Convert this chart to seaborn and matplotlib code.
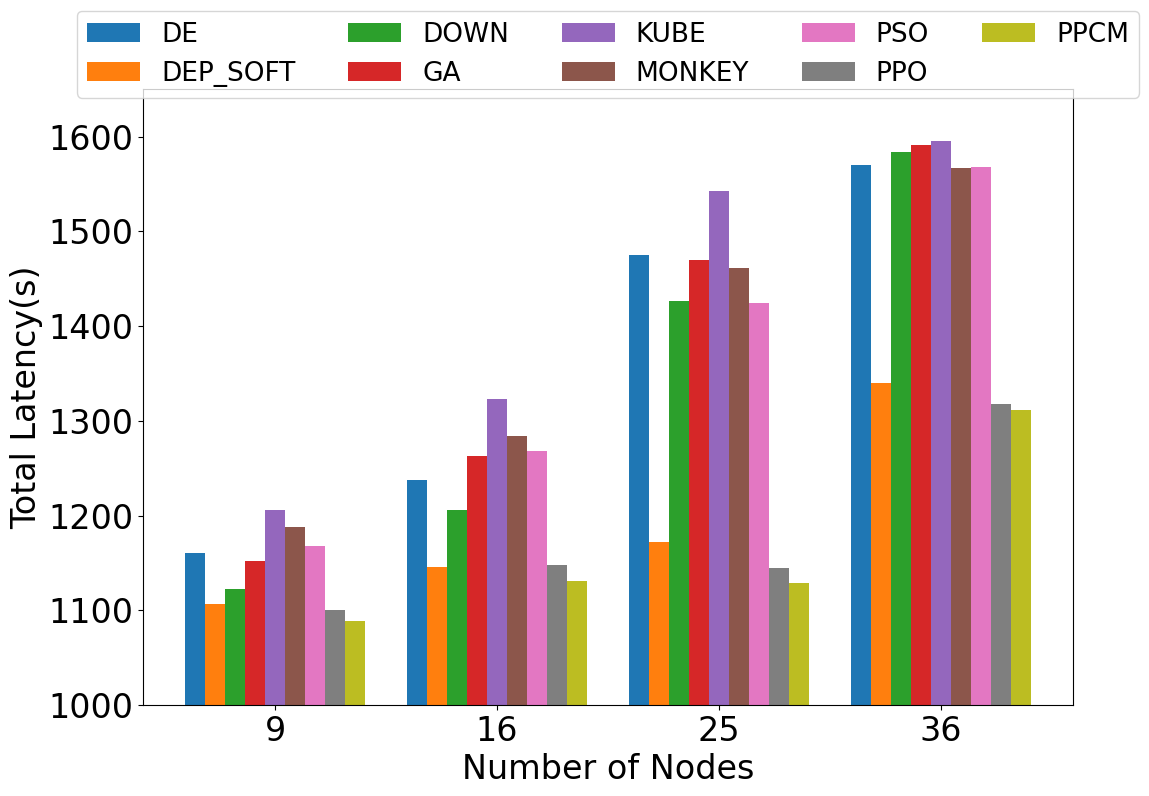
import numpy as np
import pandas as pd
import matplotlib
matplotlib.use("Agg")
import matplotlib.pyplot as plt
import seaborn as sns

# number of nodes in the cluster
nodes = ["9", "16", "25", "36"]

# total latency per scheduler (s)
methods = ["DE", "DEP_SOFT", "DOWN", "GA", "KUBE", "MONKEY", "PSO", "PPO", "PPCM"]
de = [1160, 1238, 1475, 1570]
dep_soft = [1107, 1146, 1172, 1340]
down = [1122, 1206, 1426, 1584]
ga = [1152, 1263, 1470, 1591]
kube = [1206, 1323, 1543, 1595]
monkey = [1188, 1284, 1461, 1567]
pso = [1168, 1268, 1424, 1568]
ppo = [1100, 1148, 1145, 1318]
ppcm = [1089, 1131, 1129, 1311]

values = [de, dep_soft, down, ga, kube, monkey, pso, ppo, ppcm]

# long format table for seaborn
rows = []
for m, vals in zip(methods, values):
    for n, v in zip(nodes, vals):
        rows.append({"Nodes": n, "Method": m, "Latency": v})
df = pd.DataFrame(rows)

fig = plt.figure(figsize=(11.49, 7.96), dpi=100)
ax = fig.add_axes([0.1245, 0.1143, 0.8094, 0.7737])

sns.barplot(
    data=df, x="Nodes", y="Latency", hue="Method",
    order=nodes, hue_order=methods,
    palette=sns.color_palette("tab10", len(methods)),
    width=0.81, saturation=1, errorbar=None, ax=ax,
)

ax.set_xlim(-0.595, 3.595)
ax.set_ylim(1000, 1650)
ax.set_xlabel("Number of Nodes", fontsize=24)
ax.set_ylabel("Total Latency(s)", fontsize=24)
ax.tick_params(axis="both", labelsize=24)

ax.legend(loc="upper center", bbox_to_anchor=(0.5, 1.148), ncol=5,
          fontsize=19, frameon=True)

fig.savefig("out.png", dpi=100)
